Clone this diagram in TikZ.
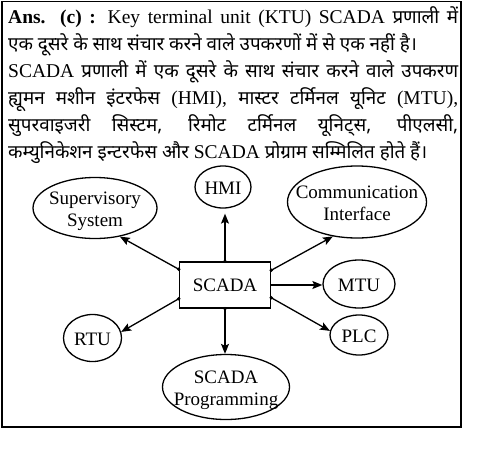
\documentclass[tikz,border=0pt]{standalone}
\usepackage{fontspec}
\setmainfont{Liberation Serif}
\newfontfamily\hindi[Script=Devanagari,Scale=0.965]{Noto Sans}
\usetikzlibrary{shapes.geometric,arrows.meta}
\setlength{\parindent}{0pt}
\newcommand{\etiqueta}[1]{\makebox[0pt]{\raisebox{-7pt}[0pt][0pt]{\begin{tabular}{@{}c@{}}#1\end{tabular}}}}

\begin{document}
\begin{tikzpicture}[x=1pt, y=-1pt, >={Stealth[length=10pt,width=8pt,inset=2pt]}]
        % Definición de estilos
        \tikzstyle{nodoElipse} = [draw, ellipse, line width=1.3pt, inner sep=0pt, font=\fontsize{19}{22}\selectfont]
        \tikzstyle{nodoCaja} = [draw, rectangle, line width=1.5pt, minimum width=91pt, minimum height=46pt, font=\fontsize{19}{22}\selectfont]
        \tikzstyle{arista} = [->, line width=1.3pt]

        \useasboundingbox (0,0) rectangle (480,453);
        \draw[line width=1.4pt] (2,1.5) rectangle (461,427);

        % Texto de la respuesta
        \node[anchor=north west, inner sep=0pt, text width=450pt, align=justify, font=\fontsize{19.5}{27}\selectfont] (respuesta) at (8,6) {\textbf{Ans. (c) :} Key terminal unit (KTU) SCADA {\hindi प्रणाली में}\linebreak
        {\hindi एक दूसरे के साथ संचार करने वाले उपकरणों में से एक नहीं है।}\par
        SCADA {\hindi प्रणाली में एक दूसरे के साथ संचार करने वाले उपकरण}\linebreak
        {\hindi ह्यूमन मशीन इंटरफेस} (HMI), {\hindi मास्टर टर्मिनल यूनिट} (MTU),\linebreak
        {\hindi सुपरवाइजरी सिस्टम, रिमोट टर्मिनल यूनिट्स, पीएलसी,}\linebreak
        {\hindi कम्युनिकेशन इन्टरफेस और} SCADA {\hindi प्रोग्राम सम्मिलित होते हैं।}};

        % Nodos
        \node[nodoCaja] (scada) at (225,285) {SCADA};
        \node[nodoElipse, minimum width=124pt, minimum height=61pt] (supervisor) at (95,208) {\etiqueta{Supervisory\\System}};
        \node[nodoElipse, minimum width=56pt, minimum height=42pt] (hmi) at (223,187) {\etiqueta{HMI}};
        \node[nodoElipse, minimum width=139pt, minimum height=72pt] (interfaz) at (357,202) {\etiqueta{Communication\\Interface}};
        \node[nodoElipse, minimum width=72pt, minimum height=48pt] (mtu) at (359,284) {\etiqueta{MTU}};
        \node[nodoElipse, minimum width=58pt, minimum height=47pt] (rtu) at (92.5,338) {\etiqueta{RTU}};
        \node[nodoElipse, minimum width=58pt, minimum height=40pt] (plc) at (359,335) {\etiqueta{PLC}};
        \node[nodoElipse, minimum width=127pt, minimum height=65pt] (programacion) at (226,387) {\etiqueta{SCADA\\Programming}};

        % Puntos de salida
        \coordinate (salidaSup) at ([yshift=-8pt]scada.north west);
        \coordinate (salidaRtu) at ([yshift=10pt]scada.south west);
        \coordinate (salidaCom) at ([yshift=-9pt]scada.north east);
        \coordinate (salidaPlc) at ([yshift=11pt]scada.south east);
        \foreach \p in {salidaSup, salidaRtu, salidaCom, salidaPlc, scada.north, scada.south}
            \fill (\p) circle (1.8pt);

        % Aristas
        \draw[arista] (salidaSup) -- (supervisor.-49);
        \draw[arista, shorten >=5pt] (scada.north) -- (scada.north |- hmi.south);
        \draw[arista] (salidaCom) -- (interfaz.-125);
        \draw[arista] (scada.east) -- (scada.east -| mtu.west);
        \draw[arista] (salidaRtu) -- (rtu.12);
        \draw[arista] (salidaPlc) -- (plc.172);
        \draw[arista] (scada.south) -- (scada.south |- programacion.north);
    \end{tikzpicture}
\end{document}
